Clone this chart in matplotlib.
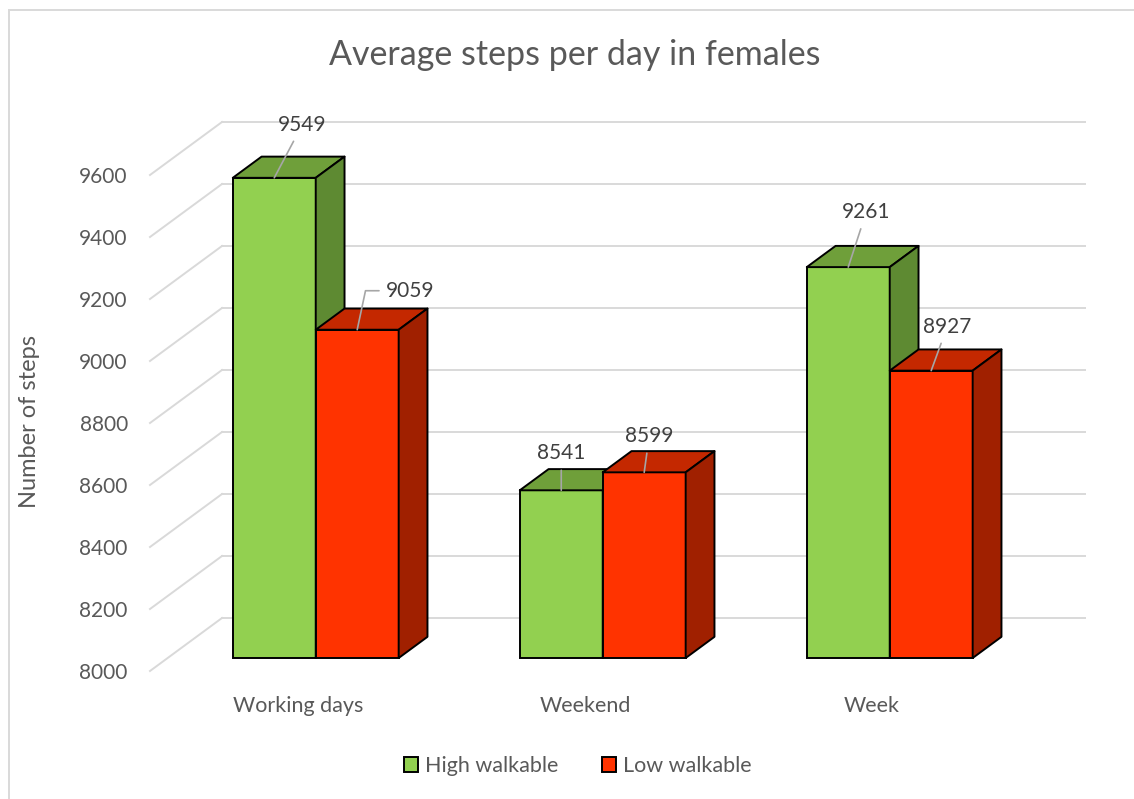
import numpy as np
import matplotlib
matplotlib.use('Agg')
import matplotlib.pyplot as plt
from matplotlib.patches import Polygon, Patch, Rectangle

plt.rcParams['font.family'] = ['Lato', 'DejaVu Sans']

# data
categories = ['Working days', 'Weekend', 'Week']
high_walkable = [9549, 8541, 9261]
low_walkable = [9059, 8599, 8927]
series_names = ['High walkable', 'Low walkable']
y_ticks = [8000, 8200, 8400, 8600, 8800, 9000, 9200, 9400, 9600]

# colours: front, top, side
green = ('#92D050', '#6F9F3A', '#5E8A32')
red = ('#FF3300', '#C42800', '#A02000')
grid_col = '#D9D9D9'
text_col = '#595959'

W, H = 1134, 799
fig = plt.figure(figsize=(W / 100, H / 100), dpi=100)
ax = fig.add_axes([150 / W, 128 / H, 863 / W, 496 / H])
ax.set_xlim(-0.516, 2.491)
ax.set_ylim(y_ticks[0], y_ticks[-1])
ax.patch.set_visible(False)
for s in ax.spines.values():
    s.set_visible(False)

# oblique depth offset (full depth = 72 px right, 53 px up)
px_x = 863 / (2.491 + 0.516)
px_y = 496 / (y_ticks[-1] - y_ticks[0])
DX = 72 / px_x
DY = 53 / px_y
x0, x1 = ax.get_xlim()
base = y_ticks[0]


def proj(x, v, d):
    return (x + d * DX, v + d * DY)


# back wall gridlines and left wall diagonals
for t in y_ticks:
    a = proj(x0, t, 1)
    b = proj(x1, t, 1)
    ax.plot([a[0], b[0]], [a[1], b[1]], color=grid_col, lw=1.4, zorder=1, clip_on=False)
    c = proj(x0, t, 0)
    ax.plot([c[0], a[0]], [c[1], a[1]], color=grid_col, lw=1.4, zorder=1, clip_on=False)

f = 0.245   # bar front depth
dw = 0.4    # bar depth
bw = 0.289  # bar width
xpos = np.arange(len(categories))


def bar3d(xl, v, cols, z):
    xr = xl + bw
    fx, fy = proj(xl, base, f)
    ax.bar(fx, v - base, width=bw, bottom=fy, align='edge', color=cols[0],
           edgecolor='black', lw=1.4, zorder=z, clip_on=False)
    top = [proj(xl, v, f), proj(xr, v, f), proj(xr, v, f + dw), proj(xl, v, f + dw)]
    side = [proj(xr, base, f), proj(xr, v, f), proj(xr, v, f + dw), proj(xr, base, f + dw)]
    for pts, c in [(top, cols[1]), (side, cols[2])]:
        ax.add_patch(Polygon(pts, closed=True, facecolor=c, edgecolor='black',
                             lw=1.4, joinstyle='round', zorder=z, clip_on=False))


for i, c in enumerate(xpos):
    bar3d(c - bw, high_walkable[i], green, 2 + 2 * i)
    bar3d(c, low_walkable[i], red, 3 + 2 * i)

# data labels with leader lines
label_offsets = [[(28, 53), (53, 39)], [(0, 37), (5, 36)], [(18, 55), (16, 44)]]
for i, c in enumerate(xpos):
    for j, (vals, xl) in enumerate([(high_walkable, c - bw), (low_walkable, c)]):
        v = vals[i]
        anchor = proj(xl + bw / 2, v, f)
        cs = 'arc3'
        if i == 0 and j == 1:
            cs = 'angle,angleA=0,angleB=78,rad=0'
        ax.annotate(str(v), xy=anchor, xytext=label_offsets[i][j], textcoords='offset pixels',
                    ha='center', va='center', fontsize=15, color='#404040',
                    arrowprops=dict(arrowstyle='-', color='#A6A6A6', lw=1.2,
                                    shrinkA=3, shrinkB=0, connectionstyle=cs),
                    zorder=20, annotation_clip=False)

ax.set_yticks(y_ticks)
ax.set_yticklabels([str(t) for t in y_ticks])
ax.set_xticks(xpos)
ax.set_xticklabels(categories)
ax.tick_params(axis='y', length=0, pad=16, labelsize=15, labelcolor=text_col)
ax.tick_params(axis='x', length=0, pad=18, labelsize=15.5, labelcolor=text_col)

fig.text(575 / W, 1 - 55 / H, 'Average steps per day in females', ha='center', va='center',
         fontsize=24.5, color=text_col)
fig.text(30 / W, 1 - 422 / H, 'Number of steps', ha='center', va='center', rotation=90,
         fontsize=17, color=text_col)

handles = [Patch(facecolor=green[0], edgecolor='black', lw=1.4),
           Patch(facecolor=red[0], edgecolor='black', lw=1.4)]
fig.legend(handles, series_names, loc='center', bbox_to_anchor=(578 / W, 1 - 766 / H),
           ncol=2, frameon=False, fontsize=15.5, handlelength=0.65, handleheight=0.65,
           handletextpad=0.35, columnspacing=2.0, labelcolor=text_col)

fig.patches.append(Rectangle((8.5 / W, -0.1), 1.2, 1 - 9.5 / H + 0.1, transform=fig.transFigure,
                             fill=False, edgecolor=grid_col, lw=1.4))

fig.savefig('out.png', dpi=100)
